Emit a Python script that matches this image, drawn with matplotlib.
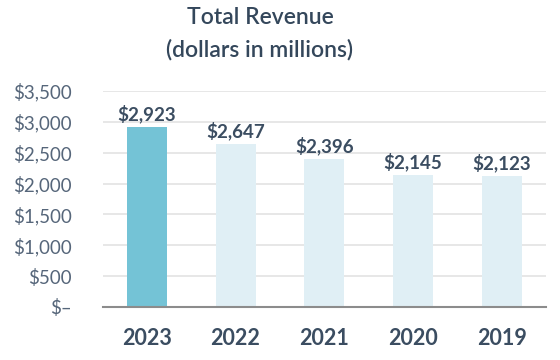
import matplotlib
matplotlib.use("Agg")
import matplotlib.pyplot as plt
from matplotlib.ticker import FuncFormatter

years = ["2023", "2022", "2021", "2020", "2019"]
revenue = [2923, 2647, 2396, 2145, 2123]
value_labels = ["$2,923", "$2,647", "$2,396", "$2,145", "$2,123"]
y_ticks = [0, 500, 1000, 1500, 2000, 2500, 3000, 3500]

plt.rcParams['font.family'] = ['Lato', 'DejaVu Sans']

fig = plt.figure(figsize=(5.6, 3.6), dpi=100)
ax = fig.add_axes([102.5/560, 1-307/360, (546-102.5)/560, (307-91)/360])

colors = ["#74c3d6"] + ["#e0eff5"] * (len(years) - 1)
x = list(range(len(years)))
ax.bar(x, revenue, width=0.45, color=colors, zorder=3)

for xi, v, lab in zip(x, revenue, value_labels):
    ax.annotate(lab, (xi, v), xytext=(0, 2.5), textcoords="offset points",
                ha="center", va="bottom", fontsize=13.5, fontweight="bold",
                color="#3b4d61")

ax.set_xlim(-0.5, len(years) - 0.5)
ax.set_ylim(0, 3500)
ax.set_yticks(y_ticks)
ax.yaxis.set_major_formatter(FuncFormatter(lambda v, p: "$\u2013" if v == 0 else f"${v:,.0f}"))
ax.set_xticks(x)
ax.set_xticklabels(years, fontsize=15.5, fontweight="bold", color="#3b4d61")
ax.tick_params(axis="y", length=0, pad=22, labelsize=13.5, labelcolor="#56667a")
ax.tick_params(axis="x", length=0, pad=15)

ax.grid(axis="y", color="#e3e3e3", linewidth=1.2, zorder=0)
for s in ["top", "right", "left"]:
    ax.spines[s].set_visible(False)
ax.spines["bottom"].set_color("#8c8c8c")
ax.spines["bottom"].set_linewidth(1.5)
ax.spines["bottom"].set_zorder(4)

fig.text(260/560, 1-17/360, "Total Revenue", ha="center", va="center",
         fontsize=16.5, fontweight="semibold", color="#34475b")
fig.text(260/560, 1-50/360, "(dollars in millions)", ha="center", va="center",
         fontsize=16.5, fontweight="semibold", color="#34475b")

fig.savefig("out.png", dpi=100)
